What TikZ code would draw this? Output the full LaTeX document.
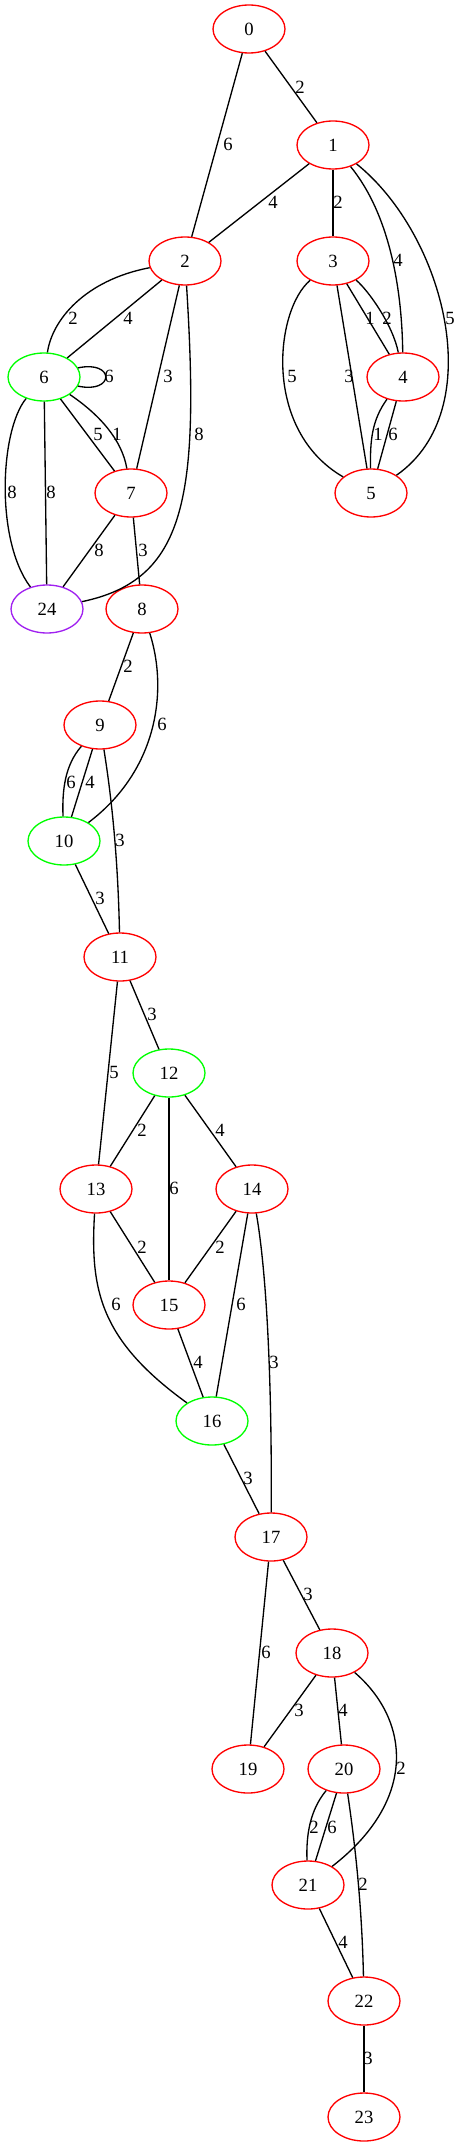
\documentclass[tikz,border=0pt]{standalone}
\usepackage{fontspec}
\setmainfont{Liberation Serif}
\usetikzlibrary{shapes.geometric}
\definecolor{gvpurple}{HTML}{A020F0}

\begin{document}
\begin{tikzpicture}[x=0.75pt, y=-0.75pt,
	vtx/.style={ellipse, draw=red, line width=1pt, minimum width=54pt, minimum height=36pt, inner sep=0pt, font=\fontsize{14}{16}\selectfont},
	lbl/.style={inner sep=0pt, font=\fontsize{14}{16}\selectfont},
	lnk/.style={line width=1pt}]
	\useasboundingbox (0,0) rectangle (461,2147);
	% vertices
	\node[vtx] (n0) at (249,29) {0};
	\node[vtx] (n1) at (333,145) {1};
	\node[vtx] (n2) at (185,261) {2};
	\node[vtx] (n3) at (333,261) {3};
	\node[vtx] (n4) at (403,377) {4};
	\node[vtx] (n5) at (371,493) {5};
	\node[vtx, draw=green] (n6) at (44,377) {6};
	\node[vtx] (n7) at (131,493) {7};
	\node[vtx] (n8) at (142,609) {8};
	\node[vtx, draw=gvpurple] (n24) at (47,609) {24};
	\node[vtx] (n9) at (100,725) {9};
	\node[vtx, draw=green] (n10) at (64,841) {10};
	\node[vtx] (n11) at (120,957) {11};
	\node[vtx, draw=green] (n12) at (169,1073) {12};
	\node[vtx] (n13) at (96,1189) {13};
	\node[vtx] (n14) at (252,1189) {14};
	\node[vtx] (n15) at (169,1305) {15};
	\node[vtx, draw=green] (n16) at (212,1421) {16};
	\node[vtx] (n17) at (271,1537) {17};
	\node[vtx] (n18) at (332,1653) {18};
	\node[vtx] (n19) at (248,1769) {19};
	\node[vtx] (n20) at (344,1769) {20};
	\node[vtx] (n21) at (308,1885) {21};
	\node[vtx] (n22) at (364,2001) {22};
	\node[vtx] (n23) at (364,2117) {23};
	% edges
	\draw[lnk] (n0) -- (n1) node[lbl] at (300,87) {2};
	\draw[lnk] (n0) -- (n2) node[lbl] at (228,144) {6};
	\draw[lnk] (n1) -- (n2) node[lbl] at (273,202) {4};
	\draw[lnk] (n1) -- (n3) node[lbl] at (338,202) {2};
	\draw[lnk] (n1) .. controls (390,215) and (402,290) .. (n4) node[lbl] at (398,260) {4};
	\draw[lnk] (n1) .. controls (445,235) and (490,410) .. (n5) node[lbl] at (450,318) {5};
	\draw[lnk] (n2) .. controls (85,280) and (52,320) .. (n6) node[lbl] at (73,318) {2};
	\draw[lnk] (n2) -- (n6) node[lbl] at (128,318) {4};
	\draw[lnk] (n2) -- (n7) node[lbl] at (168,376) {3};
	\draw[lnk] (n2) .. controls (200,500) and (185,580) .. (n24) node[lbl] at (199,434) {8};
	\draw[lnk] (n3) -- (n4) node[lbl] at (370,318) {1};
	\draw[lnk] (n3) .. controls (368,290) and (393,325) .. (n4) node[lbl] at (387,318) {2};
	\draw[lnk] (n3) .. controls (275,310) and (262,430) .. (n5) node[lbl] at (292,376) {5};
	\draw[lnk] (n3) -- (n5) node[lbl] at (349,376) {3};
	\draw[lnk] (n4) .. controls (372,420) and (370,440) .. (n5) node[lbl] at (378,434) {1};
	\draw[lnk] (n4) -- (n5) node[lbl] at (393,434) {6};
	\draw[lnk] (n6.15) .. controls (115,360) and (115,394) .. (n6.-15) node[lbl] at (109,376) {6};
	\draw[lnk] (n6) -- (n7) node[lbl] at (98,434) {5};
	\draw[lnk] (n6) .. controls (100,415) and (122,440) .. (n7) node[lbl] at (117,434) {1};
	\draw[lnk] (n6) .. controls (0,430) and (-5,540) .. (n24) node[lbl] at (12,492) {8};
	\draw[lnk] (n6) -- (n24) node[lbl] at (51,492) {8};
	\draw[lnk] (n7) -- (n24) node[lbl] at (99,550) {8};
	\draw[lnk] (n7) -- (n8) node[lbl] at (143,550) {3};
	\draw[lnk] (n8) -- (n9) node[lbl] at (128,666) {2};
	\draw[lnk] (n8) .. controls (168,690) and (158,770) .. (n10) node[lbl] at (162,724) {6};
	\draw[lnk] (n9) .. controls (65,765) and (62,790) .. (n10) node[lbl] at (71,782) {6};
	\draw[lnk] (n9) -- (n10) node[lbl] at (90,782) {4};
	\draw[lnk] (n9) .. controls (112,800) and (118,860) .. (n11) node[lbl] at (120,840) {3};
	\draw[lnk] (n10) -- (n11) node[lbl] at (100,898) {3};
	\draw[lnk] (n11) -- (n12) node[lbl] at (152,1014) {3};
	\draw[lnk] (n11) -- (n13) node[lbl] at (114,1072) {5};
	\draw[lnk] (n12) -- (n13) node[lbl] at (142,1130) {2};
	\draw[lnk] (n12) -- (n14) node[lbl] at (220,1130) {4};
	\draw[lnk] (n12) -- (n15) node[lbl] at (174,1188) {6};
	\draw[lnk] (n13) -- (n15) node[lbl] at (142,1247) {2};
	\draw[lnk] (n14) -- (n15) node[lbl] at (220,1247) {2};
	\draw[lnk] (n13) .. controls (90,1290) and (100,1340) .. (n16) node[lbl] at (116,1304) {6};
	\draw[lnk] (n14) -- (n16) node[lbl] at (241,1304) {6};
	\draw[lnk] (n15) -- (n16) node[lbl] at (198,1362) {4};
	\draw[lnk] (n14) .. controls (268,1280) and (272,1400) .. (n17) node[lbl] at (274,1362) {3};
	\draw[lnk] (n16) -- (n17) node[lbl] at (248,1478) {3};
	\draw[lnk] (n17) -- (n18) node[lbl] at (308,1594) {3};
	\draw[lnk] (n17) -- (n19) node[lbl] at (266,1652) {6};
	\draw[lnk] (n18) -- (n19) node[lbl] at (299,1710) {3};
	\draw[lnk] (n18) -- (n20) node[lbl] at (343,1710) {4};
	\draw[lnk] (n18) .. controls (410,1720) and (418,1800) .. (n21) node[lbl] at (401,1768) {2};
	\draw[lnk] (n20) .. controls (310,1810) and (306,1835) .. (n21) node[lbl] at (314,1827) {2};
	\draw[lnk] (n20) -- (n21) node[lbl] at (332,1827) {6};
	\draw[lnk] (n20) .. controls (356,1850) and (362,1910) .. (n22) node[lbl] at (363,1884) {2};
	\draw[lnk] (n21) -- (n22) node[lbl] at (343,1942) {4};
	\draw[lnk] (n22) -- (n23) node[lbl] at (368,2058) {3};
\end{tikzpicture}
\end{document}
